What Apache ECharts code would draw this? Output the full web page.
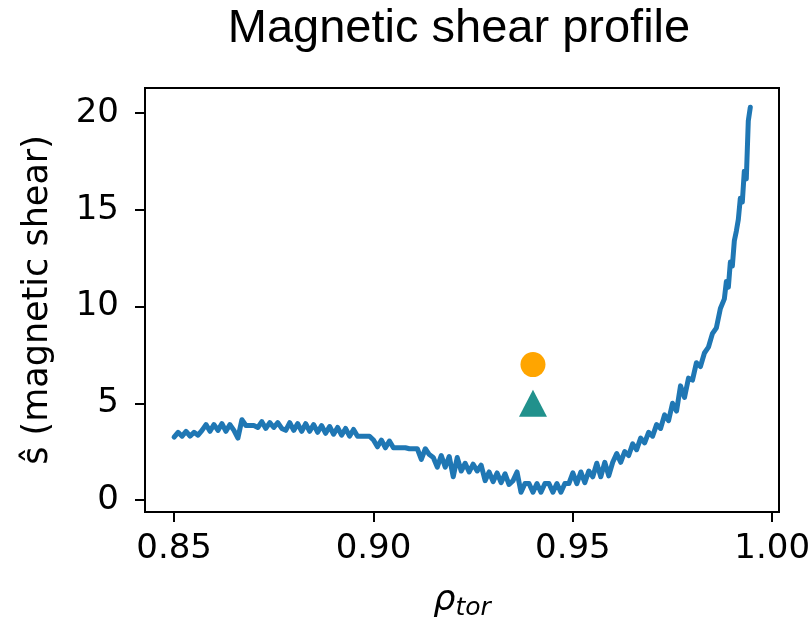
<!DOCTYPE html>
<html>
<head>
<meta charset="utf-8">
<script src="https://cdn.jsdelivr.net/npm/echarts@6/dist/echarts.min.js"></script>
<style>
html,body{margin:0;padding:0;background:#fff;}
#c{width:812px;height:624px;}
</style>
</head>
<body>
<div id="c"></div>
<script>
// rho_tor sample positions
var rho = [
  0.850,0.851,0.852,0.853,0.854,0.855,0.856,0.857,0.858,0.859,
  0.860,0.861,0.862,0.863,0.864,0.865,0.866,0.867,0.868,0.869,
  0.870,0.871,0.872,0.873,0.874,0.875,0.876,0.877,0.878,0.879,
  0.880,0.881,0.882,0.883,0.884,0.885,0.886,0.887,0.888,0.889,
  0.890,0.891,0.892,0.893,0.894,0.895,0.896,0.897,0.898,0.899,
  0.900,0.901,0.902,0.903,0.904,0.905,0.906,0.907,0.908,0.909,
  0.910,0.911,0.912,0.913,0.914,0.915,0.916,0.917,0.918,0.919,
  0.920,0.921,0.922,0.923,0.924,0.925,0.926,0.927,0.928,0.929,
  0.930,0.931,0.932,0.933,0.934,0.935,0.936,0.937,0.938,0.939,
  0.940,0.941,0.942,0.943,0.944,0.945,0.946,0.947,0.948,0.949,
  0.950,0.951,0.952,0.953,0.954,0.955,0.956,0.957,0.958,0.959,
  0.960,0.961,0.962,0.963,0.964,0.965,0.966,0.967,0.968,0.969,
  0.970,0.971,0.972,0.973,0.974,0.975,0.976,0.977,0.978,0.979,
  0.980,0.981,0.982,0.983,0.984,0.985,0.986,0.987,
  0.988,0.9885,0.989,0.9895,0.990,0.9905,0.991,0.9915,0.992,0.9925,0.993,0.9935,0.994,0.9945
];
// magnetic shear values
var shear = [
  3.25,3.5,3.3,3.55,3.3,3.5,3.35,3.6,3.9,3.55,
  3.9,3.6,3.95,3.55,3.9,3.6,3.2,4.15,3.85,3.85,
  3.85,3.75,4.05,3.7,4.0,3.75,4.0,3.7,3.6,4.0,
  3.6,3.95,3.55,3.95,3.55,3.9,3.5,3.85,3.45,3.8,
  3.4,3.75,3.35,3.7,3.3,3.65,3.3,3.3,3.3,3.3,
  3.1,2.75,3.1,2.7,3.05,2.7,2.7,2.7,2.7,2.65,
  2.65,2.65,2.1,2.65,2.35,2.2,1.7,2.3,1.7,2.25,
  1.2,2.2,1.5,1.9,1.45,1.85,1.5,1.8,1.0,1.45,
  0.95,1.4,0.9,1.35,0.8,1.0,1.45,0.4,0.85,0.85,
  0.4,0.85,0.4,0.85,0.85,0.4,0.85,0.4,0.85,0.85,
  1.4,0.85,1.45,0.9,1.5,1.2,1.9,1.2,1.95,1.25,
  1.95,2.4,1.95,2.5,2.3,2.9,2.6,3.2,2.95,3.5,
  3.3,3.9,3.7,4.4,4.1,5.0,4.6,5.9,5.3,6.3,
  6.2,7.1,6.9,7.6,7.9,8.6,8.9,9.9,
  10.4,11.3,11.0,12.3,12.1,13.4,13.9,14.5,15.6,15.4,17.0,16.6,19.6,20.3
];
// markers
var circlePoint = [0.94, 7];
var trianglePoint = [0.94, 5];
// ticks
var xTicks = [0.85, 0.90, 0.95, 1.00];
var yTicks = [0, 5, 10, 15, 20];

var lineData = rho.map(function(x, i){ return [x, shear[i]]; });

var chart = echarts.init(document.getElementById('c'), null, {renderer:'canvas'});
var tickFont = 'DejaVu Sans';
chart.setOption({
  backgroundColor: '#ffffff',
  animation: false,
  title: {
    text: 'Magnetic shear profile',
    left: 454, top: 1, textAlign: 'center',
    textStyle: {fontFamily: 'Liberation Sans', fontSize: 47, fontWeight: 'normal', color: '#000'}
  },
  grid: {left: 145, top: 88, width: 634, height: 424, show: true, borderColor: '#000', borderWidth: 2,
    backgroundColor: 'transparent', containLabel: false, outerBoundsMode: 'none'},
  xAxis: {
    type: 'value', min: 0.8427, max: 1.0017,
    name: '{r|ρ}{s|tor}', nameLocation: 'middle', nameGap: 68,
    nameTextStyle: {
      rich: {
        r: {fontFamily: tickFont, fontSize: 35, fontStyle: 'italic', color: '#000'},
        s: {fontFamily: tickFont, fontSize: 25, fontStyle: 'italic', color: '#000', padding: [16,0,0,0]}
      }
    },
    axisLine: {show: true, onZero: false, lineStyle: {color: '#000', width: 2}},
    axisTick: {show: true, length: 10, lineStyle: {color: '#000', width: 2}, customValues: xTicks},
    axisLabel: {show: true, margin: 20, fontFamily: tickFont, fontSize: 34, color: '#000',
      customValues: xTicks, formatter: function(v){ return v.toFixed(2); }},
    splitLine: {show: false}
  },
  yAxis: {
    type: 'value', min: -0.62, max: 21.3,
    name: 'ŝ (magnetic shear)', nameLocation: 'middle', nameGap: 90,
    nameTextStyle: {fontFamily: tickFont, fontSize: 35, color: '#000'},
    axisLine: {show: true, onZero: false, lineStyle: {color: '#000', width: 2}},
    axisTick: {show: true, length: 10, lineStyle: {color: '#000', width: 2}, customValues: yTicks},
    axisLabel: {show: true, margin: 26, fontFamily: tickFont, fontSize: 34, color: '#000',
      customValues: yTicks, formatter: function(v){ return String(v); }},
    splitLine: {show: false}
  },
  series: [
    {
      type: 'line', data: lineData, showSymbol: false, symbol: 'none', smooth: false,
      lineStyle: {color: '#1f77b4', width: 5, cap: 'round', join: 'round'},
      z: 2
    },
    {
      type: 'scatter', data: [circlePoint], symbol: 'circle', symbolSize: 25,
      itemStyle: {color: '#ffa500', opacity: 1}, z: 3
    },
    {
      type: 'scatter', data: [trianglePoint], symbol: 'triangle', symbolSize: [28, 27],
      itemStyle: {color: '#21918c', opacity: 1}, z: 3
    }
  ]
});
</script>
</body>
</html>
